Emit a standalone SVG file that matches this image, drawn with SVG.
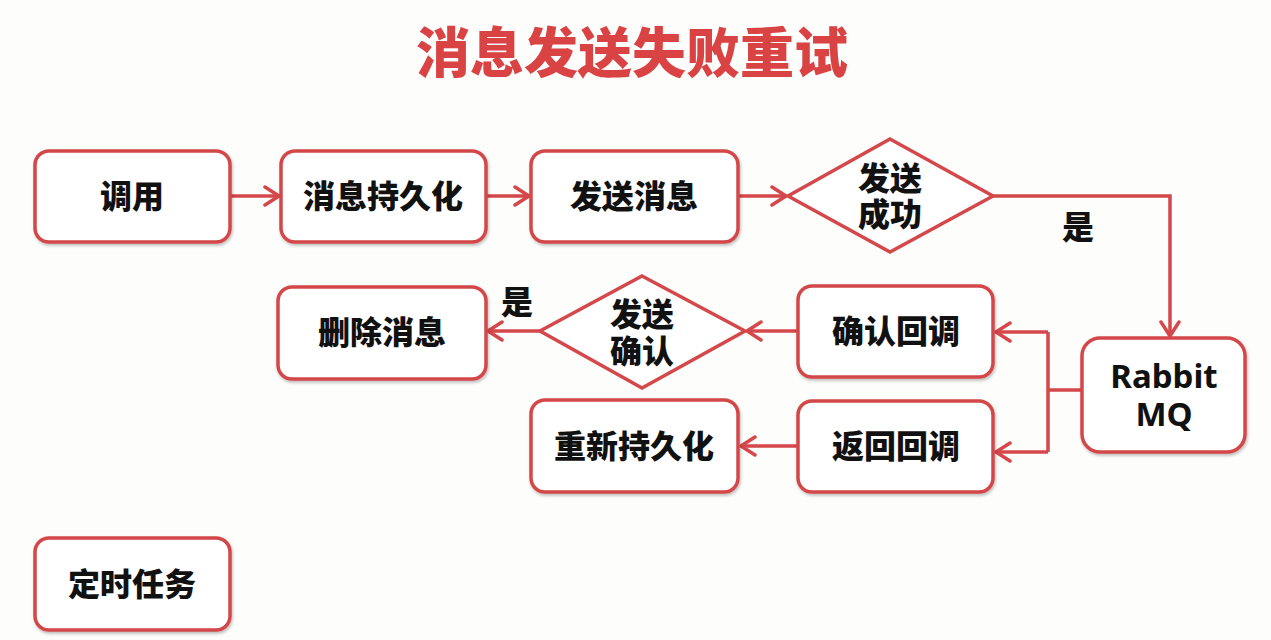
<svg xmlns="http://www.w3.org/2000/svg" width="1271" height="640" viewBox="0 0 1271 640">
<defs>
<marker id="arr" markerUnits="userSpaceOnUse" markerWidth="20" markerHeight="24" viewBox="0 0 20 24" refX="18" refY="12" orient="auto">
<path d="M4,3 L18,12 L4,21" fill="none" stroke="#d4474a" stroke-width="3.5" stroke-linecap="round" stroke-linejoin="round"/>
</marker>
<filter id="sh" x="-10%" y="-10%" width="125%" height="130%">
<feDropShadow dx="1" dy="2" stdDeviation="1.5" flood-color="#000" flood-opacity="0.25"/>
</filter>
</defs>
<style>
.box{fill:#fff;stroke:#d4474a;stroke-width:3.5;filter:url(#sh)}
.dia{fill:#fff;stroke:#d4474a;stroke-width:3.5}
.t{font-family:"Noto Sans CJK SC","Noto Sans",sans-serif;font-weight:900;font-size:32px;fill:#111;text-anchor:middle}
.lt{font-family:"Noto Sans","Open Sans",sans-serif;font-weight:bold;font-size:33px;fill:#111;text-anchor:middle}
.c{fill:none;stroke:#d4474a;stroke-width:3.5}
</style>
<rect width="1271" height="640" fill="#fdfdfb"/>
<text x="632" y="73" font-family="'Noto Sans CJK SC',sans-serif" font-weight="900" font-size="54" fill="#d94343" text-anchor="middle">消息发送失败重试</text>

<g id="connectors">
<line class="c" x1="230" y1="196" x2="279" y2="196" marker-end="url(#arr)"/>
<line class="c" x1="486" y1="196" x2="529" y2="196" marker-end="url(#arr)"/>
<line class="c" x1="738" y1="196" x2="786" y2="196" marker-end="url(#arr)"/>
<polyline class="c" points="993,196 1170,196 1170,336" marker-end="url(#arr)"/>
<line class="c" x1="1082" y1="390" x2="1048" y2="390"/>
<polyline class="c" points="1048,332 1048,452"/>
<line class="c" x1="1048" y1="332" x2="996" y2="332" marker-end="url(#arr)"/>
<line class="c" x1="1048" y1="452" x2="996" y2="452" marker-end="url(#arr)"/>
<line class="c" x1="798" y1="331" x2="747" y2="331" marker-end="url(#arr)"/>
<line class="c" x1="540" y1="331" x2="488" y2="331" marker-end="url(#arr)"/>
<line class="c" x1="798" y1="446" x2="741" y2="446" marker-end="url(#arr)"/>
<text class="t" x="1078" y="239">是</text>
<text class="t" x="517" y="314">是</text>
</g>

<g id="n-call"><rect class="box" x="35" y="151" width="195" height="91" rx="14"/><text class="t" x="132" y="208">调用</text></g>
<g id="n-persist"><rect class="box" x="281" y="151" width="205" height="91" rx="14"/><text class="t" x="383" y="208">消息持久化</text></g>
<g id="n-send"><rect class="box" x="531" y="151" width="207" height="91" rx="14"/><text class="t" x="634" y="208">发送消息</text></g>
<g id="n-sendok"><polygon class="dia" points="890,139 993,196 890,252 788,196"/><text class="t" x="890" y="190">发送</text><text class="t" x="890" y="226">成功</text></g>
<g id="n-mq"><rect class="box" x="1082" y="338" width="163" height="114" rx="18"/><text class="lt" x="1164" y="388">Rabbit</text><text class="lt" x="1164" y="426">MQ</text></g>
<g id="n-confirmcb"><rect class="box" x="798" y="286" width="195" height="91" rx="14"/><text class="t" x="896" y="343">确认回调</text></g>
<g id="n-returncb"><rect class="box" x="798" y="401" width="195" height="91" rx="14"/><text class="t" x="896" y="458">返回回调</text></g>
<g id="n-confirm"><polygon class="dia" points="642,276 745,331 642,388 540,331"/><text class="t" x="642" y="326">发送</text><text class="t" x="642" y="363">确认</text></g>
<g id="n-delete"><rect class="box" x="278" y="287" width="208" height="92" rx="14"/><text class="t" x="382" y="344">删除消息</text></g>
<g id="n-repersist"><rect class="box" x="531" y="400" width="207" height="92" rx="14"/><text class="t" x="634" y="458">重新持久化</text></g>
<g id="n-timer"><rect class="box" x="35" y="538" width="195" height="92" rx="14"/><text class="t" x="132" y="596">定时任务</text></g>
</svg>
